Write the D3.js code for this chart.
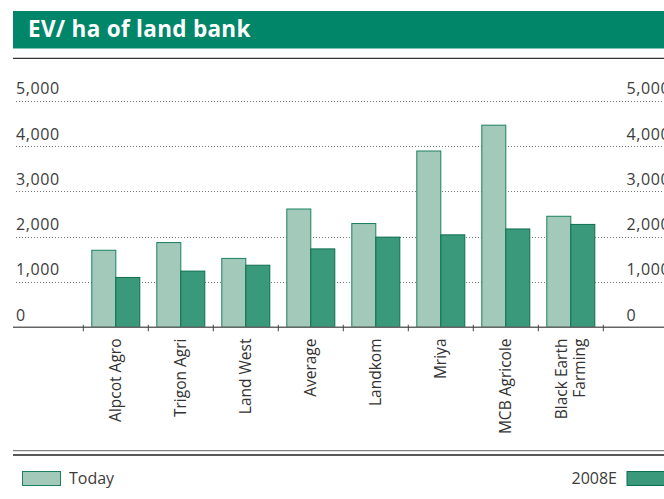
<!DOCTYPE html>
<html>
<head>
<meta charset="utf-8">
<script src="https://cdn.jsdelivr.net/npm/d3@7"></script>
<style>
  body { margin: 0; background: #fff; }
  svg { display: block; font-family: "Open Sans", "Noto Sans", sans-serif; }
</style>
</head>
<body>
<div id="chart"></div>
<script>
const categories = ['Alpcot Agro', 'Trigon Agri', 'Land West', 'Average', 'Landkom', 'Mriya', 'MCB Agricole', 'Black Earth\nFarming'];
const today = [1700, 1870, 1520, 2610, 2290, 3890, 4460, 2450];
const e2008 = [1100, 1240, 1370, 1730, 1990, 2040, 2170, 2270];
const seriesNames = ['Today', '2008E'];
const yTicks = [0, 1000, 2000, 3000, 4000, 5000];

let width = 664, height = 499;
let fills = { 'Today': '#a2c9b9', '2008E': '#3a997b' };
let strokes = { 'Today': '#1a8060', '2008E': '#0d6e50' };

let svg = d3.select('#chart').append('svg')
  .attr('width', width)
  .attr('height', height);

// title band
svg.append('rect')
  .attr('x', 13).attr('y', 11)
  .attr('width', width - 13).attr('height', 37.5)
  .attr('fill', '#02866a');
svg.append('text')
  .attr('x', 28).attr('y', 37)
  .attr('fill', '#fff')
  .attr('font-size', 22.5)
  .attr('font-weight', 700)
  .attr('letter-spacing', 0.3)
  .text('EV/ ha of land bank');
svg.append('line')
  .attr('x1', 13).attr('x2', width)
  .attr('y1', 58.3).attr('y2', 58.3)
  .attr('stroke', '#333').attr('stroke-width', 1.3);

let y = d3.scaleLinear().domain([0, 5000]).range([327.3, 100.7]);
let x = d3.scaleBand().domain(categories).range([83.3, 603.3]).padding(0);
let x1 = d3.scaleBand().domain(seriesNames).range([0, x.bandwidth()]).paddingInner(0).paddingOuter(0.354);
let fmt = d3.format(',');

// gridlines and y labels
let grid = svg.append('g');
grid.selectAll('line')
  .data(yTicks.filter(d => d > 0))
  .enter().append('line')
  .attr('x1', 16).attr('x2', width)
  .attr('y1', d => Math.round(y(d)) + 0.5)
  .attr('y2', d => Math.round(y(d)) + 0.5)
  .attr('stroke', '#777')
  .attr('stroke-dasharray', '1,2');

[16, 626.5].forEach(lx => {
  svg.append('g').selectAll('text')
    .data(yTicks)
    .enter().append('text')
    .attr('x', lx)
    .attr('y', d => y(d) - 6.5)
    .attr('font-size', 16)
    .attr('letter-spacing', 0.6)
    .attr('fill', '#3c3c3c')
    .text(d => fmt(d));
});

// bars
let rows = categories.map((c, i) => ({ cat: c, values: [today[i], e2008[i]] }));
let groups = svg.append('g').selectAll('g')
  .data(rows)
  .enter().append('g')
  .attr('transform', d => `translate(${x(d.cat)},0)`);

groups.selectAll('rect')
  .data(d => seriesNames.map((s, j) => ({ key: s, value: d.values[j] })))
  .enter().append('rect')
  .attr('x', d => x1(d.key))
  .attr('y', d => y(d.value))
  .attr('width', x1.bandwidth())
  .attr('height', d => y(0) - y(d.value))
  .attr('fill', d => fills[d.key])
  .attr('stroke', d => strokes[d.key])
  .attr('stroke-width', 1);

// baseline and ticks
svg.append('line')
  .attr('x1', 13).attr('x2', width)
  .attr('y1', y(0)).attr('y2', y(0))
  .attr('stroke', '#666').attr('stroke-width', 1.5);

let tickX = categories.map(c => x(c)).concat([x.range()[1]]);
svg.append('g').selectAll('line')
  .data(tickX)
  .enter().append('line')
  .attr('x1', d => d).attr('x2', d => d)
  .attr('y1', y(0) - 2.5).attr('y2', y(0) + 4)
  .attr('stroke', '#444').attr('stroke-width', 1);

// category labels
let labels = svg.append('g').selectAll('text')
  .data(categories)
  .enter().append('text')
  .attr('transform', d => {
    let lines = d.split('\n').length;
    let cx = x(d) + x.bandwidth() / 2 + 5.5 - (lines - 1) * 9;
    return `translate(${cx},338.5) rotate(-90)`;
  })
  .attr('text-anchor', 'end')
  .attr('font-size', 15.5)
  .attr('fill', '#333');
labels.each(function (d) {
  let t = d3.select(this);
  d.split('\n').forEach((ln, i) => {
    t.append('tspan').attr('x', 0).attr('dy', i === 0 ? 0 : 18).text(ln);
  });
});

// bottom rules
svg.append('line')
  .attr('x1', 13).attr('x2', width)
  .attr('y1', 450.7).attr('y2', 450.7)
  .attr('stroke', '#666').attr('stroke-width', 1);
svg.append('line')
  .attr('x1', 13).attr('x2', width)
  .attr('y1', 455).attr('y2', 455)
  .attr('stroke', '#222').attr('stroke-width', 1.3);

// legend
svg.append('rect')
  .attr('x', 22.5).attr('y', 471.5).attr('width', 38).attr('height', 14)
  .attr('fill', fills['Today']).attr('stroke', strokes['Today']);
svg.append('text')
  .attr('x', 69).attr('y', 484)
  .attr('font-size', 16).attr('fill', '#3c3c3c')
  .text(seriesNames[0]);
svg.append('text')
  .attr('x', 617).attr('y', 484)
  .attr('text-anchor', 'end')
  .attr('font-size', 16).attr('fill', '#3c3c3c')
  .text(seriesNames[1]);
svg.append('rect')
  .attr('x', 627).attr('y', 471.5).attr('width', 40).attr('height', 14)
  .attr('fill', fills['2008E']).attr('stroke', strokes['2008E']);
</script>
</body>
</html>
